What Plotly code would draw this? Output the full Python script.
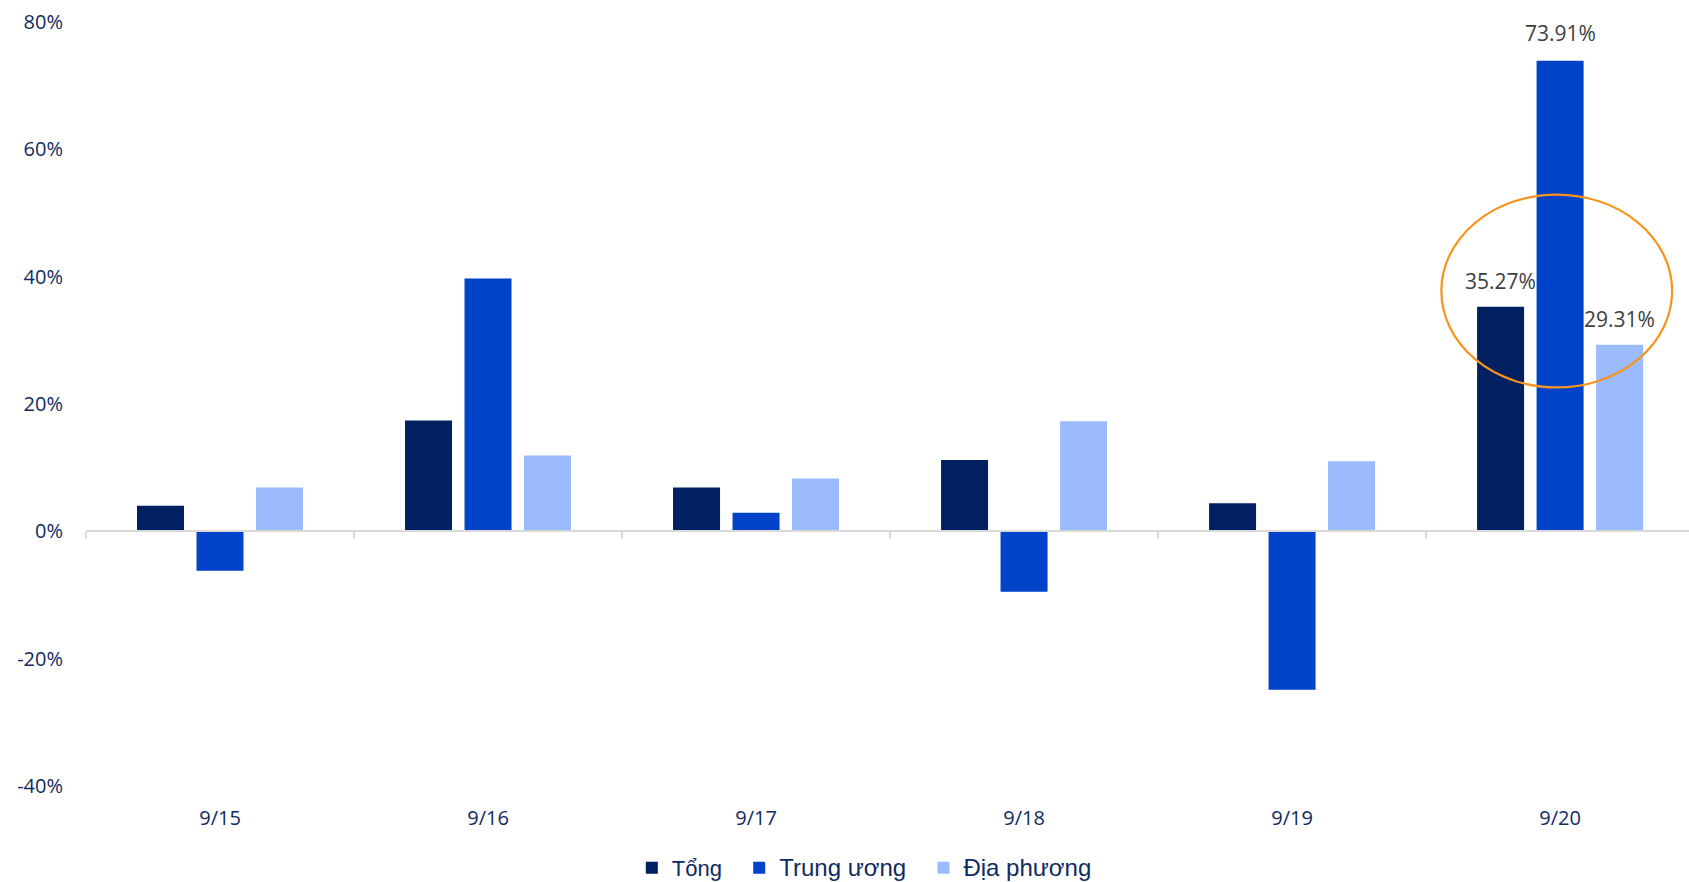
import plotly.graph_objects as go

# Weekly growth by budget level
dates = ["9/15", "9/16", "9/17", "9/18", "9/19", "9/20"]
tong = [4.0, 17.4, 6.9, 11.2, 4.4, 35.27]
trung_uong = [-6.2, 39.7, 2.9, -9.5, -24.9, 73.91]
dia_phuong = [6.9, 11.9, 8.3, 17.3, 11.0, 29.31]

series_names = ["Tổng", "Trung ương", "Địa phương"]
series_colors = ["#002060", "#0042C8", "#9BBBFD"]
legend_sizes = [22, 24, 24]
y_ticks = [-40, -20, 0, 20, 40, 60, 80]

Y_MIN, Y_MAX = -40, 80
NAVY = "#0F2B5F"
LABEL_FONT = "Open Sans"
NBSP = "\u00a0"

fig = go.Figure()
for name, vals, col, fs in zip(series_names, [tong, trung_uong, dia_phuong],
                               series_colors, legend_sizes):
    fig.add_trace(go.Bar(
        x=dates, y=vals,
        name=f"<span style='font-size:{fs}px'>{name}</span>" + NBSP * 2,
        marker=dict(color=col, line=dict(width=0)),
    ))

# Helper trace that carries the boundary-tick axis drawn along the zero line
fig.add_trace(go.Scatter(x=dates, y=[0] * len(dates), xaxis="x2", mode="markers",
                         marker=dict(opacity=0), showlegend=False, hoverinfo="skip"))

# Value labels for the last period
n_series = len(series_names)
bargap = 0.334
slot = (1 - bargap) / n_series
last = len(dates) - 1
for i, vals in enumerate([tong, trung_uong, dia_phuong]):
    v = vals[last]
    fig.add_annotation(
        x=last + (i - (n_series - 1) / 2) * slot, y=v,
        xref="x", yref="y",
        text=f"{v:.2f}%", showarrow=False,
        yanchor="bottom", yshift=10 if i != 1 else 12,
        font=dict(family=LABEL_FONT, size=21, color="#404040"),
    )

# Highlight ring around the last period
fig.add_shape(
    type="circle", xref="x", yref="y",
    x0=last - 0.443, x1=last + 0.418, y0=22.6, y1=52.9,
    line=dict(color="#F7941D", width=2.2),
)

x_range = [-0.5, 5.481]
fig.update_layout(
    width=1689, height=882,
    margin=dict(l=86, r=0, t=22, b=96, autoexpand=False),
    paper_bgcolor="white", plot_bgcolor="white",
    barmode="group", bargap=bargap, bargroupgap=0.21,
    font=dict(family=LABEL_FONT, color=NAVY),
    xaxis=dict(
        type="category", range=x_range, showline=False, showgrid=False,
        zeroline=False, ticks="", ticklabelstandoff=18,
        tickfont=dict(size=20, color=NAVY, family=LABEL_FONT),
    ),
    xaxis2=dict(
        type="category", overlaying="x", anchor="free",
        position=(0 - Y_MIN) / (Y_MAX - Y_MIN), side="bottom",
        range=x_range, showline=True, linecolor="#D9D9D9", linewidth=2,
        ticks="outside", tickson="boundaries", ticklen=7, tickwidth=2,
        tickcolor="#D9D9D9", showticklabels=False, showgrid=False, zeroline=False,
    ),
    yaxis=dict(
        range=[Y_MIN, Y_MAX], tickvals=y_ticks,
        ticktext=[f"{t}%" for t in y_ticks],
        showgrid=False, zeroline=False, showline=False,
        ticklabelstandoff=22,
        tickfont=dict(size=20, color=NAVY, family=LABEL_FONT),
    ),
    legend=dict(
        orientation="h", x=0.3405, xanchor="left",
        yref="container", y=0.016, yanchor="middle",
        font=dict(size=22, color=NAVY, family="Liberation Sans"),
        itemwidth=30, tracegroupgap=0, bgcolor="rgba(0,0,0,0)",
    ),
    showlegend=True,
)

fig.write_html("out.html")
